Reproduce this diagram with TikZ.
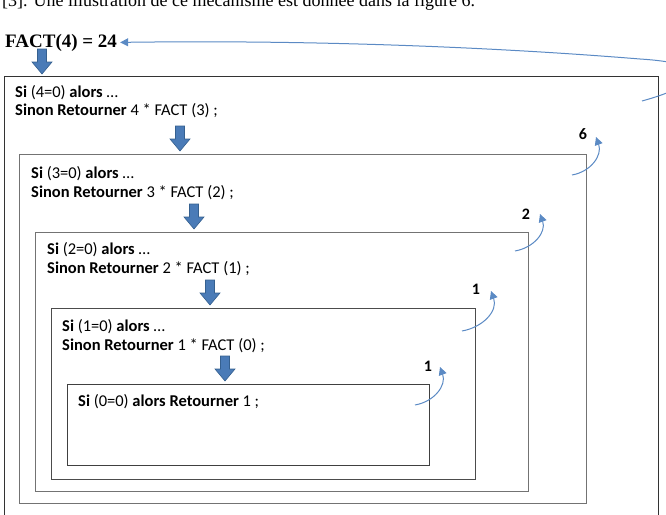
\documentclass[tikz,border=0pt]{standalone}
\usepackage{fontspec}
\setmainfont{Liberation Serif}
\newfontfamily\calfont{Carlito}
\usetikzlibrary{arrows.meta}
\definecolor{bkfill}{HTML}{4A7BB7}
\definecolor{bkdraw}{HTML}{35608F}
\definecolor{thinblue}{HTML}{5B8AC4}
\tikzset{
  box/.style={line width=0.9pt, anchor=north west, inner sep=0pt},
  code/.style={anchor=base west, inner sep=0pt, font=\calfont\fontsize{16.5}{19}\selectfont},
  num/.style={anchor=base, inner sep=0pt, font=\calfont\bfseries\fontsize{16}{18}\selectfont},
  retarrow/.style={draw=thinblue, line width=1pt, -{Triangle[length=8pt,width=8pt]}},
  bkarrow/.pic={\path[fill=bkfill, draw=bkdraw, line width=0.6pt]
     (-4.5,-25) -- (4.5,-25) -- (4.5,-12) -- (10,-12) -- (0,0) -- (-10,-12) -- (-4.5,-12) -- cycle;}
}
\begin{document}
\begin{tikzpicture}[x=1pt,y=-1pt]
\useasboundingbox (0,0) rectangle (666,514);
\clip (0,0) rectangle (666,514);
% header (cut off at the top, as in the source)
\node[anchor=base west, inner sep=0pt, font=\fontsize{18}{20}\selectfont] (hdr) at (2,6) {[3]. Une illustration de ce mécanisme est donnée dans la figure 6.};
\node[anchor=base west, inner sep=0pt, font=\bfseries\fontsize{19}{21}\selectfont] (fact) at (5,47) {FACT(4) = 24};
% boxes
\node[box, draw=black!80, minimum width=654pt, minimum height=460pt] (b1) at (4,76) {};
\node[box, draw=black!55, minimum width=567pt, minimum height=349pt] (b2) at (19,154) {};
\node[box, draw=black!55, minimum width=493pt, minimum height=259pt] (b3) at (35,232) {};
\node[box, draw=black!70, minimum width=424pt, minimum height=171pt] (b4) at (51,308) {};
\node[box, draw=black!75, minimum width=362pt, minimum height=81pt] (b5) at (67,384) {};
% texts
\node[code] (t1a) at (15,97) {\textbf{Si} (4=0) \textbf{alors} …};
\node[code] (t1b) at (15,115) {\textbf{Sinon Retourner} 4 * FACT (3) ;};
\node[code] (t2a) at (31,178) {\textbf{Si} (3=0) \textbf{alors} …};
\node[code] (t2b) at (31,197) {\textbf{Sinon Retourner} 3 * FACT (2) ;};
\node[code] (t3a) at (47,254) {\textbf{Si} (2=0) \textbf{alors} …};
\node[code] (t3b) at (47,273) {\textbf{Sinon Retourner} 2 * FACT (1) ;};
\node[code] (t4a) at (62,331) {\textbf{Si} (1=0) \textbf{alors} …};
\node[code] (t4b) at (62,350) {\textbf{Sinon Retourner} 1 * FACT (0) ;};
\node[code] (t5a) at (78,406) {\textbf{Si} (0=0) \textbf{alors Retourner} 1 ;};
% block arrows
\pic at (42,74) {bkarrow};
\pic at (180,151) {bkarrow};
\pic at (194,229) {bkarrow};
\pic at (210,305) {bkarrow};
\pic at (225,381) {bkarrow};
% return values
\node[num] (n6) at (583,139) {6};
\node[num] (n2) at (526,219) {2};
\node[num] (n1a) at (476,294) {1};
\node[num] (n1b) at (428,371) {1};
\coordinate (s6) at (572,175);
\coordinate (e6) at (596,137);
\coordinate (s2) at (515,251);
\coordinate (e2) at (540,214);
\coordinate (s1a) at (462,331);
\coordinate (e1a) at (491,291);
\coordinate (s1b) at (415,405);
\coordinate (e1b) at (440,367);
\draw[retarrow] (s6) to[out=10,in=-70,looseness=1.1] (e6);
\draw[retarrow] (s2) to[out=10,in=-70,looseness=1.1] (e2);
\draw[retarrow] (s1a) to[out=10,in=-70,looseness=1.1] (e1a);
\draw[retarrow] (s1b) to[out=10,in=-70,looseness=1.1] (e1b);
% final return
\coordinate (s24) at (642,101);
\coordinate (m24) at (640,59);
\draw[retarrow, shorten >=3pt] (s24) .. controls (700,85) and (720,64) .. (m24) .. controls (480,46) and (300,40) .. (fact.east);
\end{tikzpicture}
\end{document}
